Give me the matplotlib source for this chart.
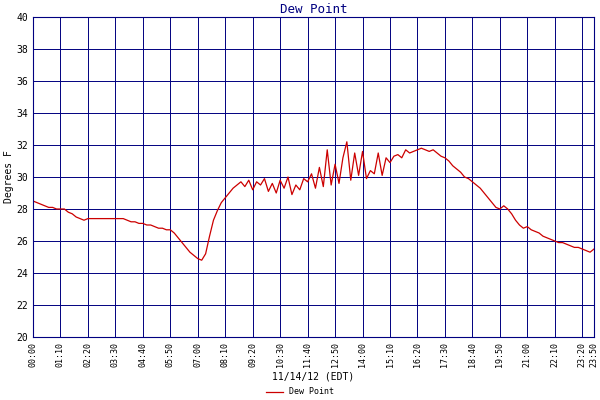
import matplotlib
matplotlib.use("Agg")
import matplotlib.pyplot as plt

minutes = list(range(0, 1440, 10))
dew_point = [
28.5,28.4,28.3,28.2,28.1,28.1,28.0,
28.0,28.0,27.8,27.7,27.5,27.4,27.3,
27.4,27.4,27.4,27.4,27.4,27.4,27.4,
27.4,27.4,27.4,27.3,27.2,27.2,27.1,
27.1,27.0,27.0,26.9,26.8,26.8,26.7,
26.7,26.5,26.2,25.9,25.6,25.3,25.1,
24.9,24.8,25.2,26.3,27.3,27.9,28.4,
28.7,29.0,29.3,29.5,29.7,29.4,29.8,
29.2,29.7,29.5,29.9,29.1,29.6,29.0,
29.8,29.3,30.0,28.9,29.5,29.2,29.9,
29.7,30.2,29.3,30.6,29.4,31.7,29.5,
30.8,29.6,31.2,32.2,29.8,31.5,30.1,
31.6,29.9,30.4,30.2,31.5,30.1,31.2,
30.9,31.3,31.4,31.2,31.7,31.5,31.6,
31.7,31.8,31.7,31.6,31.7,31.5,31.3,
31.2,31.0,30.7,30.5,30.3,30.0,29.9,
29.7,29.5,29.3,29.0,28.7,28.4,28.1,
28.0,28.2,28.0,27.7,27.3,27.0,26.8,
26.9,26.7,26.6,26.5,26.3,26.2,26.1,
26.0,25.9,25.9,25.8,25.7,25.6,25.6,
25.5,25.4,25.3,25.5,
]
tick_minutes = list(range(0, 1401, 70)) + [1430]
tick_labels = ["%02d:%02d" % (m // 60, m % 60) for m in tick_minutes]

plt.rcParams['font.family'] = ['DejaVu Sans Mono']
fig = plt.figure(figsize=(6, 4), dpi=100)
ax = fig.add_axes([0.055, 0.1575, 0.935, 0.8])
navy = '#000080'
ax.plot(minutes, dew_point, color='#cc0000', lw=0.9, label='Dew Point')
ax.set_xlim(0, 1430)
ax.set_ylim(20, 40)
ax.set_yticks(range(20, 41, 2))
ax.set_xticks(tick_minutes)
ax.set_xticklabels(tick_labels, rotation=90, fontsize=6)
ax.tick_params(axis='y', labelsize=7, length=0)
ax.tick_params(axis='x', length=0)
ax.grid(True, color=navy, lw=0.7)
for s in ax.spines.values():
    s.set_color(navy)
ax.set_title('Dew Point', color=navy, fontsize=9, pad=3)
ax.set_ylabel('Degrees F', fontsize=7, labelpad=2)
ax.set_xlabel('11/14/12 (EDT)', fontsize=7, labelpad=3)
fig.legend(loc='lower center', bbox_to_anchor=(0.5, -0.01), frameon=False, fontsize=6, handlelength=2)
fig.savefig('out.png')
